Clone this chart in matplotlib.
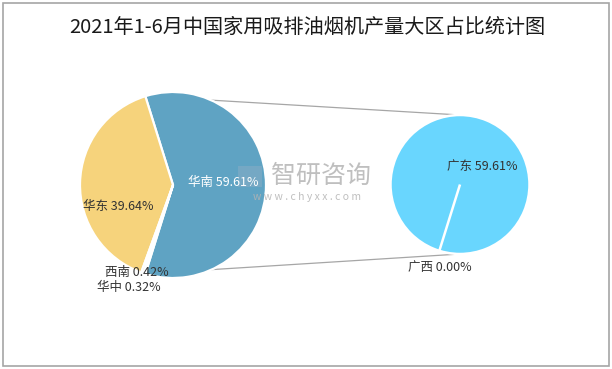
import numpy as np
import matplotlib
matplotlib.use("Agg")
import matplotlib.pyplot as plt
from matplotlib.patches import Rectangle

plt.rcParams['font.family'] = ['Noto Sans CJK SC', 'DejaVu Sans']

title = "2021年1-6月中国家用吸排油烟机产量大区占比统计图"
main_names = ["华南", "华东", "西南", "华中"]
main_values = [59.61, 39.64, 0.42, 0.32]
sub_names = ["广东", "广西"]
sub_values = [59.61, 0.00]

main_colors = ["#5FA3C3", "#F6D37C", "#C9C9C9", "#D9D9D9"]
sub_colors = ["#69D6FE", "#4B8FBF"]

W, H = 612, 369
fig = plt.figure(figsize=(W / 100, H / 100), dpi=100)
ax = fig.add_axes([0, 0, 1, 1])
ax.set_xlim(0, W)
ax.set_ylim(0, H)
ax.set_aspect('equal')
ax.axis('off')

def py(y):
    return H - y

# border
ax.add_patch(Rectangle((3, py(366)), 606, 363, fill=False, edgecolor="#A6A6A6", lw=1.2))

# title
ax.text(307, py(27), title, ha='center', va='center', fontsize=14.5, color="#1a1a1a")

total = sum(main_values)
other_angle = main_values[0] / total * 360
start = -other_angle / 2

c1 = (173, py(185))
r1 = 93
c2 = (460, py(184.5))
r2 = 69.5

ax.pie(main_values, colors=main_colors, startangle=start, counterclock=True,
       center=c1, radius=r1, wedgeprops=dict(edgecolor='white', linewidth=1.6),
       frame=True)
ax.pie(sub_values, colors=sub_colors, startangle=start, counterclock=True,
       center=c2, radius=r2, wedgeprops=dict(edgecolor='white', linewidth=1.8),
       frame=True)
ax.set_xlim(0, W)
ax.set_ylim(0, H)
ax.axis('off')

# connector lines
for sgn in (1, -1):
    a = np.deg2rad(sgn * other_angle / 2)
    x0 = c1[0] + r1 * np.cos(a)
    y0 = c1[1] + r1 * np.sin(a)
    x1 = c2[0]
    y1 = c2[1] + sgn * r2
    ax.plot([x0, x1], [y0, y1], color="#A6A6A6", lw=0.9, zorder=0)

# watermark
ax.text(321, py(176), "智研咨询", ha='center', va='center', fontsize=18,
        color="#B4B4B4", alpha=0.85, zorder=5)
ax.text(307, py(197), "w w w . c h y x x . c o m", ha='center', va='center',
        fontsize=7.5, color="#B4B4B4", alpha=0.85, zorder=5)
ax.add_patch(Rectangle((238, py(187)), 24, 21, facecolor="#9FB3C8", alpha=0.35,
                       edgecolor='none', zorder=5))

def lab(name, val):
    return f"{name} {val:.2f}%"

lab_fs = 9
ax.text(223, py(182), lab(main_names[0], main_values[0]), ha='center', va='center',
        fontsize=lab_fs, color='white', zorder=6)
ax.text(118, py(206), lab(main_names[1], main_values[1]), ha='center', va='center',
        fontsize=lab_fs, color='#333333', zorder=6)
ax.text(137, py(272), lab(main_names[2], main_values[2]), ha='center', va='center',
        fontsize=lab_fs, color='#333333', zorder=6)
ax.text(129, py(288), lab(main_names[3], main_values[3]), ha='center', va='center',
        fontsize=lab_fs, color='#333333', zorder=6)
ax.text(482, py(166), lab(sub_names[0], sub_values[0]), ha='center', va='center',
        fontsize=lab_fs, color='#333333', zorder=6)
ax.text(440, py(267), lab(sub_names[1], sub_values[1]), ha='center', va='center',
        fontsize=lab_fs, color='#333333', zorder=6)

fig.savefig("out.png", dpi=100, facecolor='white')
